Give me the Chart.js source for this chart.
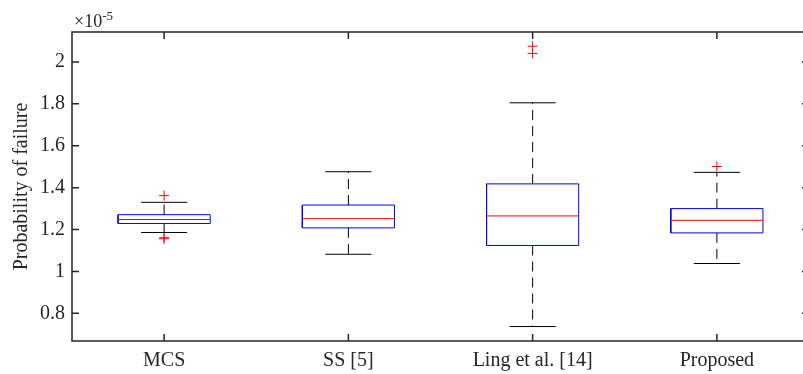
<!DOCTYPE html>
<html>
<head>
<meta charset="utf-8">
<script src="https://cdn.jsdelivr.net/npm/chart.js@4/dist/chart.umd.min.js"></script>
<style>
    html, body { margin: 0; padding: 0; background: #fff; overflow: hidden; }
    #box-chart { position: absolute; left: 0; top: 0; }
</style>
</head>
<body>
<canvas id="box-chart" width="815" height="374"></canvas>
<script>
    // values in units of 1e-5
    const categories = ['MCS', 'SS [5]', 'Ling et al. [14]', 'Proposed'];
    const lowerWhisker = [1.186, 1.082, 0.737, 1.038];
    const q1 = [1.229, 1.208, 1.124, 1.184];
    const median = [1.248, 1.252, 1.265, 1.244];
    const q3 = [1.271, 1.317, 1.418, 1.300];
    const upperWhisker = [1.330, 1.476, 1.805, 1.473];
    const outliers = [[1.362, 1.161, 1.156], [], [2.075, 2.041], [1.501]];
    const yTicks = [0.8, 1, 1.2, 1.4, 1.6, 1.8, 2];

    const axisColor = '#262626';
    const font = { family: '"Liberation Serif", "Times New Roman", serif', size: 20 };

    function seg(x0, x1, y0, y1) {
        return [{ x: x0, y: y0 }, { x: x1, y: y1 }, { x: x1, y: null }];
    }

    const boxPts = [], medPts = [], capPts = [], whiskPts = [], outPts = [];
    categories.forEach((c, i) => {
        const x = i + 1;
        boxPts.push({ x: x - 0.25, y: q1[i] }, { x: x + 0.25, y: q1[i] }, { x: x + 0.25, y: q3[i] },
            { x: x - 0.25, y: q3[i] }, { x: x - 0.25, y: q1[i] }, { x: x, y: null });
        medPts.push(...seg(x - 0.25, x + 0.25, median[i], median[i]));
        capPts.push(...seg(x - 0.125, x + 0.125, upperWhisker[i], upperWhisker[i]));
        capPts.push(...seg(x - 0.125, x + 0.125, lowerWhisker[i], lowerWhisker[i]));
        whiskPts.push(...seg(x, x, q3[i], upperWhisker[i]));
        whiskPts.push(...seg(x, x, q1[i], lowerWhisker[i]));
        outliers[i].forEach(v => outPts.push({ x: x, y: v }));
    });

    const lineSet = (data, color, extra) => Object.assign({
        data: data, showLine: true, spanGaps: false, borderColor: color,
        borderWidth: 1, pointRadius: 0, fill: false
    }, extra || {});

    // inward ticks, frame and exponent label like the MATLAB axes
    const matlabAxes = {
        id: 'matlabAxes',
        afterDraw(chart) {
            const ctx = chart.ctx;
            const a = chart.chartArea;
            const xs = chart.scales.x, ys = chart.scales.y;
            ctx.save();
            ctx.strokeStyle = axisColor;
            ctx.lineWidth = 1.5;
            ctx.strokeRect(a.left, a.top, a.right - a.left, a.bottom - a.top);
            ctx.beginPath();
            ys.ticks.forEach(t => {
                const py = ys.getPixelForValue(t.value);
                ctx.moveTo(a.left, py); ctx.lineTo(a.left + 7, py);
                ctx.moveTo(a.right, py); ctx.lineTo(a.right - 7, py);
            });
            xs.ticks.forEach(t => {
                const px = xs.getPixelForValue(t.value);
                ctx.moveTo(px, a.bottom); ctx.lineTo(px, a.bottom - 7);
                ctx.moveTo(px, a.top); ctx.lineTo(px, a.top + 7);
            });
            ctx.stroke();
            ctx.fillStyle = axisColor;
            ctx.textBaseline = 'alphabetic';
            ctx.font = '18px ' + font.family;
            ctx.fillText('\u00d710', a.left + 2, a.top - 5);
            const w = ctx.measureText('\u00d710').width;
            ctx.font = '13px ' + font.family;
            ctx.fillText('-5', a.left + 2 + w, a.top - 12);
            ctx.restore();
        }
    };

    const ctx = document.getElementById('box-chart').getContext('2d');
    const boxChart = new Chart(ctx, {
        type: 'scatter',
        data: {
            datasets: [
                lineSet(medPts, '#ff0000'),
                lineSet(boxPts, '#0000ff'),
                lineSet(capPts, '#000000'),
                lineSet(whiskPts, '#000000', { borderDash: [10, 6] }),
                {
                    data: outPts,
                    pointStyle: 'cross',
                    pointRadius: 5,
                    borderColor: '#ff0000',
                    borderWidth: 1,
                    backgroundColor: '#ff0000'
                }
            ]
        },
        options: {
            responsive: false,
            animation: false,
            layout: {
                padding: { top: 32, right: 3, left: 0, bottom: 0 }
            },
            plugins: {
                legend: { display: false },
                tooltip: { enabled: false }
            },
            scales: {
                x: {
                    type: 'linear',
                    min: 0.5,
                    max: 4.5,
                    afterBuildTicks: scale => {
                        scale.ticks = categories.map((c, i) => ({ value: i + 1 }));
                    },
                    afterFit: scale => { scale.height = 33; },
                    grid: { display: false, drawTicks: false },
                    border: { display: false },
                    ticks: {
                        font: font,
                        color: axisColor,
                        padding: 8,
                        maxRotation: 0,
                        callback: v => categories[v - 1]
                    }
                },
                y: {
                    min: 0.668,
                    max: 2.143,
                    afterBuildTicks: scale => {
                        scale.ticks = yTicks.map(v => ({ value: v }));
                    },
                    afterFit: scale => { scale.width = 72; },
                    grid: { display: false, drawTicks: false },
                    border: { display: false },
                    title: {
                        display: true,
                        text: 'Probability of failure',
                        font: font,
                        color: axisColor,
                        padding: { top: 10, bottom: 0 }
                    },
                    ticks: {
                        font: font,
                        color: axisColor,
                        padding: 7,
                        callback: v => String(+Number(v).toFixed(1))
                    }
                }
            }
        },
        plugins: [matlabAxes]
    });
</script>
</body>
</html>
